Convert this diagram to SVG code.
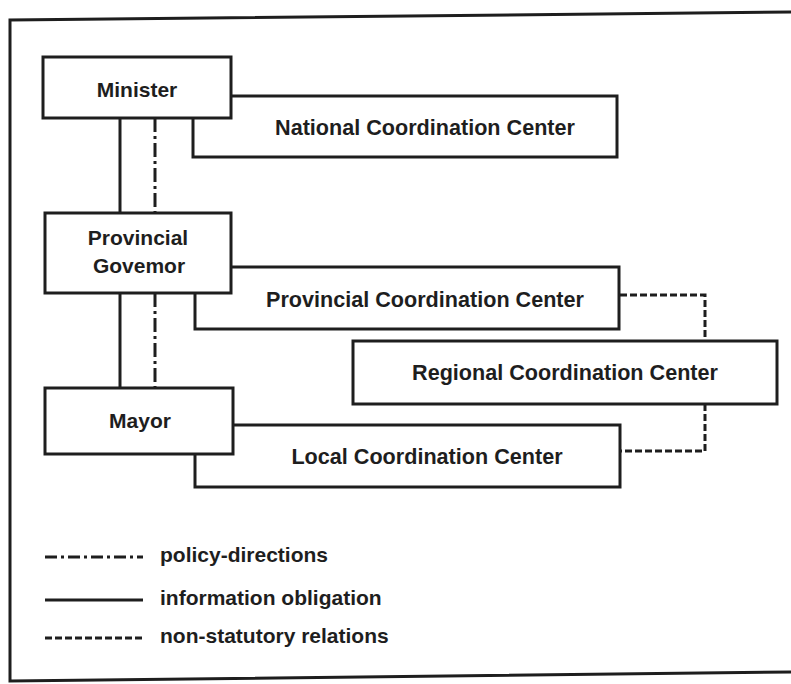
<svg xmlns="http://www.w3.org/2000/svg" width="791" height="684" viewBox="0 0 791 684">
<style>
.box{fill:#fff;stroke:#1e1e1e;stroke-width:3}
.t{font-family:"Liberation Sans",Arial,Helvetica,sans-serif;font-weight:bold;font-size:21px;fill:#1e1e1e;text-anchor:middle}
.c{font-size:21.6px}
.lt{font-family:"Liberation Sans",Arial,Helvetica,sans-serif;font-weight:bold;font-size:21px;fill:#1e1e1e}
.solid{stroke:#1e1e1e;stroke-width:3;fill:none}
.dashdot{stroke:#1e1e1e;stroke-width:3;fill:none;stroke-dasharray:14 4 3 4}
.dash{stroke:#1e1e1e;stroke-width:3;fill:none;stroke-dasharray:7 3}
</style>
<rect width="791" height="684" fill="#fff"/>
<path d="M791,12 L10,20 L10,681 L791,672" fill="none" stroke="#1e1e1e" stroke-width="3"/>

<g id="connectors">
<line class="solid" x1="120" y1="118" x2="120" y2="213"/>
<line class="dashdot" x1="155" y1="118" x2="155" y2="213"/>
<line class="solid" x1="120" y1="293" x2="120" y2="388"/>
<line class="dashdot" x1="155" y1="293" x2="155" y2="388"/>
<polyline class="dash" points="620,295 705,295 705,341"/>
<polyline class="dash" points="705,404 705,451 621,451"/>
</g>

<g id="national-cc">
<rect class="box" x="193" y="96" width="424" height="61"/>
<text class="t c" x="425" y="135">National Coordination Center</text>
</g>
<g id="provincial-cc">
<rect class="box" x="195" y="267" width="424" height="62"/>
<text class="t c" x="425" y="307">Provincial Coordination Center</text>
</g>
<g id="regional-cc">
<rect class="box" x="353" y="341" width="424" height="63"/>
<text class="t c" x="565" y="380">Regional Coordination Center</text>
</g>
<g id="local-cc">
<rect class="box" x="195" y="425" width="425" height="62"/>
<text class="t c" x="427" y="464">Local Coordination Center</text>
</g>

<g id="minister">
<rect class="box" x="43" y="57" width="188" height="61"/>
<text class="t" x="137" y="97">Minister</text>
</g>
<g id="provincial-governor">
<rect class="box" x="45" y="213" width="186" height="80"/>
<text class="t" x="138" y="245">Provincial</text>
<text class="t" x="139" y="273">Govemor</text>
</g>
<g id="mayor">
<rect class="box" x="45" y="388" width="188" height="66"/>
<text class="t" x="140" y="428">Mayor</text>
</g>

<g id="legend">
<line class="dashdot" x1="45" y1="557" x2="143" y2="557" style="stroke-dasharray:12 4 3 4"/>
<text class="lt" x="160" y="562">policy-directions</text>
<line class="solid" x1="45" y1="600" x2="143" y2="600"/>
<text class="lt" x="160" y="605">information obligation</text>
<line class="dash" x1="45" y1="638" x2="143" y2="638"/>
<text class="lt" x="160" y="643">non-statutory relations</text>
</g>
</svg>
